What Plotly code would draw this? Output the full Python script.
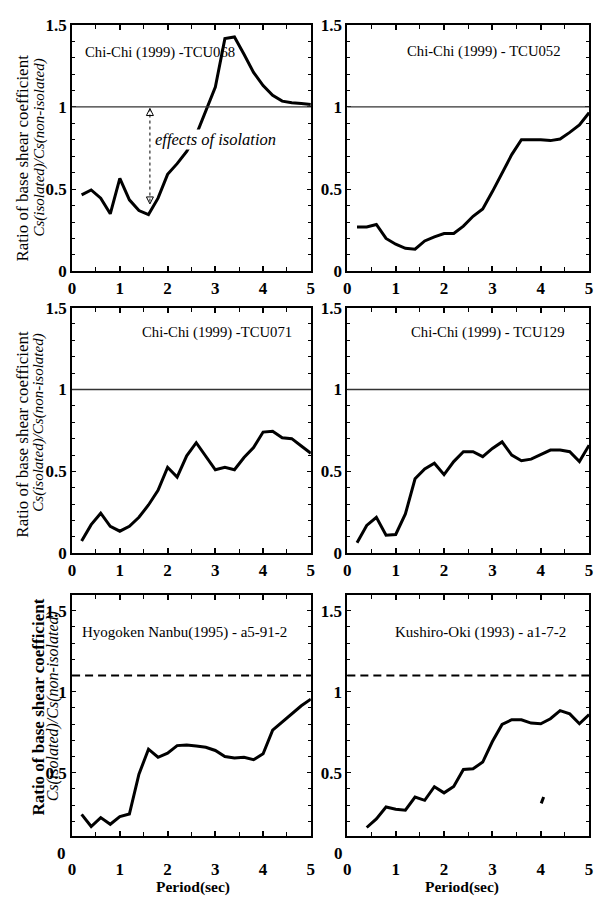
import plotly.graph_objects as go

# ---------------- data ----------------
period = [0.2, 0.4, 0.6, 0.8, 1.0, 1.2, 1.4, 1.6, 1.8, 2.0, 2.2, 2.4, 2.6,
          2.8, 3.0, 3.2, 3.4, 3.6, 3.8, 4.0, 4.2, 4.4, 4.6, 4.8, 5.0]
period_kushiro = period[1:]

tcu068 = [0.465, 0.495, 0.445, 0.35, 0.565, 0.435, 0.37, 0.345, 0.445, 0.59,
          0.655, 0.73, 0.83, 0.97, 1.12, 1.415, 1.425, 1.32, 1.21, 1.13,
          1.07, 1.035, 1.025, 1.02, 1.015]
tcu052 = [0.27, 0.27, 0.285, 0.2, 0.165, 0.14, 0.135, 0.185, 0.21, 0.23,
          0.23, 0.275, 0.335, 0.38, 0.485, 0.595, 0.71, 0.80, 0.80, 0.80,
          0.795, 0.805, 0.845, 0.89, 0.965]
tcu071 = [0.075, 0.175, 0.245, 0.165, 0.135, 0.165, 0.22, 0.295, 0.385, 0.525,
          0.465, 0.595, 0.675, 0.59, 0.51, 0.525, 0.51, 0.585, 0.645, 0.74,
          0.745, 0.705, 0.70, 0.655, 0.61]
tcu129 = [0.065, 0.17, 0.22, 0.11, 0.115, 0.24, 0.455, 0.515, 0.55, 0.48,
          0.56, 0.62, 0.62, 0.59, 0.64, 0.68, 0.60, 0.565, 0.575, 0.605,
          0.63, 0.63, 0.62, 0.56, 0.66]
hyogoken = [0.242, 0.167, 0.222, 0.181, 0.228, 0.244, 0.49, 0.645, 0.595, 0.62,
            0.667, 0.671, 0.665, 0.657, 0.637, 0.60, 0.59, 0.595, 0.58, 0.617,
            0.762, 0.812, 0.863, 0.913, 0.954]
kushiro = [0.161, 0.214, 0.288, 0.274, 0.268, 0.349, 0.329, 0.413, 0.375,
           0.415, 0.52, 0.524, 0.565, 0.692, 0.798, 0.827, 0.827, 0.806,
           0.802, 0.833, 0.883, 0.863, 0.802, 0.859]

titles = ["Chi-Chi (1999) -TCU068", "Chi-Chi (1999) - TCU052",
          "Chi-Chi (1999) -TCU071", "Chi-Chi (1999) - TCU129",
          "Hyogoken Nanbu(1995) - a5-91-2", "Kushiro-Oki (1993) - a1-7-2"]
ref_levels = [1.0, 1.0, 1.0, 1.0, 1.1, 1.1]

arrow_x = [1.63, 1.63]
arrow_y = [0.99, 0.41]
stray_x = [4.01, 4.06]
stray_y = [0.31, 0.35]

# ---------------- layout geometry ----------------
W, H = 600, 904
SERIF = "Liberation Serif"


def px_x(p):
    return p / W


def px_y(p):
    return 1 - p / H


def xn(n):
    return "x" if n == 1 else f"x{n}"


def yn(n):
    return "y" if n == 1 else f"y{n}"


x_doms = [[px_x(69), px_x(311)], [px_x(348), px_x(593)]]
y_doms = [[px_y(268), px_y(16)], [px_y(556), px_y(305)], [px_y(845), px_y(599)]]

series = [(period, tcu068), (period, tcu052), (period, tcu071),
          (period, tcu129), (period, hyogoken), (period_kushiro, kushiro)]

fig = go.Figure()

for i, (xs, ys) in enumerate(series):
    n = i + 1
    fig.add_trace(go.Scatter(x=xs, y=ys, mode="lines",
                             line=dict(color="black", width=3),
                             xaxis=xn(n), yaxis=yn(n), showlegend=False,
                             hoverinfo="skip"))

# arrow of the first panel
fig.add_trace(go.Scatter(x=arrow_x, y=arrow_y, mode="lines",
                         line=dict(color="black", width=1, dash="dot"),
                         xaxis="x", yaxis="y", showlegend=False))
fig.add_trace(go.Scatter(x=arrow_x, y=arrow_y, mode="markers",
                         marker=dict(symbol=["arrow-up-open", "arrow-down-open"],
                                     size=7, color="black",
                                     line=dict(width=1, color="black")),
                         xaxis="x", yaxis="y", showlegend=False))
# small stray mark in the last panel
fig.add_trace(go.Scatter(x=stray_x, y=stray_y, mode="lines",
                         line=dict(color="black", width=3),
                         xaxis="x6", yaxis="y6", showlegend=False))

tickfont = dict(family=SERIF, size=17, color="black", weight="bold")

layout = dict(width=W, height=H, margin=dict(l=0, r=0, t=0, b=0),
              paper_bgcolor="white", plot_bgcolor="white", showlegend=False)

annotations = []
shapes = []

for i in range(6):
    n = i + 1
    col = i % 2
    row = i // 2
    bottom = row == 2
    xa = dict(domain=x_doms[col], range=[0, 5], anchor=yn(n),
              showline=True, linewidth=2, linecolor="black",
              mirror="allticks", ticks="inside", ticklen=5, tickwidth=1.5,
              tickcolor="black", tick0=0, dtick=1,
              minor=dict(dtick=0.5, ticks="inside", ticklen=4,
                         tickcolor="black", tickwidth=1.2),
              showgrid=False, zeroline=False, tickfont=tickfont)
    if bottom:
        xa["ticklabelstandoff"] = 16
    yrange = [0.107, 1.595] if bottom else [0, 1.5]
    ya = dict(domain=y_doms[row], range=yrange, anchor=xn(n),
              showline=True, linewidth=2, linecolor="black",
              mirror="allticks", ticks="inside", ticklen=4, tickwidth=1.2,
              tickcolor="black", tick0=0, dtick=0.5,
              minor=dict(dtick=0.1, ticks="inside", ticklen=3,
                         tickcolor="black", tickwidth=1.2),
              showgrid=False, zeroline=False, tickfont=tickfont)
    key = "" if n == 1 else str(n)
    layout["xaxis" + key] = xa
    layout["yaxis" + key] = ya

    # reference line
    if bottom:
        shapes.append(dict(type="line", xref=xn(n) + " domain", yref=yn(n),
                           x0=0, x1=1, y0=ref_levels[i], y1=ref_levels[i],
                           line=dict(color="black", width=2, dash="8px,5px")))
    else:
        shapes.append(dict(type="line", xref=xn(n) + " domain", yref=yn(n),
                           x0=0, x1=1, y0=ref_levels[i], y1=ref_levels[i],
                           line=dict(color="#333333", width=1.3)))

# panel titles (left x in domain fraction, y in domain fraction)
title_pos = [(0.045, 0.889), (0.24, 0.893), (0.285, 0.90),
             (0.253, 0.90), (0.033, 0.846), (0.19, 0.846)]
title_sizes = [14.7, 14.7, 14.7, 14.7, 15, 15]
for i, (tx, ty) in enumerate(title_pos):
    n = i + 1
    annotations.append(dict(text=titles[i], xref=xn(n) + " domain",
                            yref=yn(n) + " domain", x=tx, y=ty,
                            xanchor="left", yanchor="middle", showarrow=False,
                            font=dict(family=SERIF, size=title_sizes[i],
                                      color="black")))

# effects of isolation
annotations.append(dict(text="effects of isolation", xref="x", yref="y",
                        x=1.72, y=0.80, xanchor="left", yanchor="middle",
                        showarrow=False, bgcolor="white", borderpad=0,
                        font=dict(family=SERIF, size=16.5, color="black",
                                  style="italic")))

# y-axis titles
ytitle1 = "Ratio of base shear coefficient"
ytitle2 = "Cs(isolated)/Cs(non-isolated)"
for (cx1, cx2, cy1, cy2, bold, s1, s2) in [
        (19, 35, 152, 142, False, 17, 15),
        (19, 35, 434, 423, False, 17, 15),
        (34, 50, 713, 712, True, 17, 16)]:
    annotations.append(dict(text=ytitle1, xref="paper", yref="paper",
                            x=px_x(cx1), y=px_y(cy1), textangle=-90,
                            showarrow=False, xanchor="center", yanchor="middle",
                            font=dict(family=SERIF, size=s1, color="black",
                                      weight="bold" if bold else "normal")))
    annotations.append(dict(text=ytitle2, xref="paper", yref="paper",
                            x=px_x(cx2), y=px_y(cy2), textangle=-90,
                            showarrow=False, xanchor="center", yanchor="middle",
                            font=dict(family=SERIF, size=s2, color="black",
                                      style="italic")))

# "0" labels below the bottom boxes, and x titles
for cx in [58, 339]:
    annotations.append(dict(text="0", xref="paper", yref="paper", x=px_x(cx),
                            y=px_y(863), showarrow=False, xanchor="center",
                            yanchor="middle", font=tickfont))
for cx in [192, 464]:
    annotations.append(dict(text="Period(sec)", xref="paper", yref="paper",
                            x=px_x(cx), y=px_y(897), showarrow=False,
                            xanchor="center", yanchor="middle",
                            font=dict(family=SERIF, size=15.5, color="black",
                                      weight="bold")))

layout["annotations"] = annotations
layout["shapes"] = shapes
fig.update_layout(**layout)

fig.write_html("out.html")
